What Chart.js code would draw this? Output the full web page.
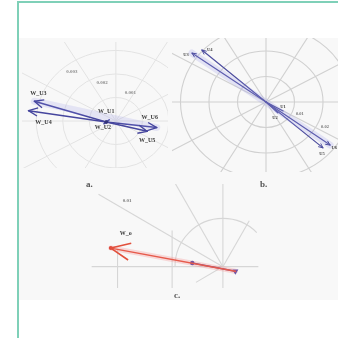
<!DOCTYPE html>
<html>
<head>
<meta charset="utf-8">
<script src="https://cdn.jsdelivr.net/npm/chart.js@4"></script>
<style>
  html, body { margin: 0; padding: 0; background: #fff; width: 338px; height: 338px; overflow: hidden; }
  body { position: relative; }
  #frame { position: absolute; left: 17px; top: 1px; width: 340px; height: 360px;
           border-left: 2px solid #7fd0b8; border-top: 2px solid #7fd0b8; }
  #sheet { position: absolute; left: 19px; top: 38px; width: 319px; height: 262px; background: #f8f8f8; }
  canvas { position: absolute; }
  .tag { position: absolute; font: bold 9px "Liberation Serif", serif; color: #555; }
</style>
</head>
<body>
<div id="frame"></div>
<div id="sheet"></div>
<canvas id="pa" width="154" height="134" style="left:18px;top:38px"></canvas>
<canvas id="pb" width="166" height="134" style="left:172px;top:38px"></canvas>
<canvas id="pc" width="190" height="112" style="left:80px;top:180px"></canvas>
<div class="tag" style="left:86px;top:179px">a.</div>
<div class="tag" style="left:260px;top:179px">b.</div>
<div class="tag" style="left:174px;top:290px">c.</div>
<script>
// ---- phasor values (units of the ring ticks) ----
// a. six phasors drawn from a common hub
const aNames = ['W_U1', 'W_U2', 'W_U3', 'W_U4', 'W_U5', 'W_U6'];
const aTailX = [-0.36, -0.36, -0.36, -0.36, -0.36, -0.36];
const aTailY = [-0.04, -0.04, -0.04, -0.04, -0.04, -0.04];
const aTipX  = [-0.25, -0.45, -3.07, -3.29, 1.18, 1.54];
const aTipY  = [0.05, -0.12, 0.84, 0.44, -0.44, -0.28];
const aRingTicks = ['0.001', '0.002', '0.003'];

// b. the same six phasors on the full polar grid
const bNames = ['U1', 'U2', 'U3', 'U4', 'U5', 'U6'];
const bTailX = [0, 0, 0, 0, 0, 0];
const bTailY = [0, 0, 0, 0, 0, 0];
const bTipX  = [0.60, 0.42, -2.60, -2.25, 2.00, 2.25];
const bTipY  = [-0.35, -0.43, 1.92, 2.04, -1.80, -1.69];
const bRingTicks = ['0.01', '0.02'];

// c. resulting phasor (red) and its component (blue)
const cNames = ['W_o', ''];
const cTailX = [0.26, 0.26];
const cTailY = [-0.096, -0.096];
const cTipX  = [-2.34, -0.64];
const cTipY  = [0.385, 0.077];
const cRingTicks = ['0.01'];

// ---- label placement (pixel offsets from each tip) ----
const aTagOffsets = [[-3, -8], [-1, 4], [4, -8], [15, 12], [0, 9], [-7, -10]];
const bTagOffsets = [[0, -4], [-3, 5], [-6, 2], [8, 0], [-1, 6], [4, 3]];
const cTagOffsets = [[15, -15], [0, 0]];

// polar grid: rings, spokes, straight segments and ring tick labels
const polarGrid = {
  id: 'polarGrid',
  beforeDatasetsDraw(chart, args, o) {
    const { ctx, chartArea: ca, scales: { x, y } } = chart;
    const px = v => x.getPixelForValue(v), py = v => y.getPixelForValue(v);
    const cx = px(0), cy = py(0);
    ctx.save();
    ctx.beginPath();
    ctx.rect(ca.left, ca.top, ca.right - ca.left, ca.bottom - ca.top);
    ctx.clip();
    ctx.strokeStyle = o.color;
    ctx.lineWidth = o.width;
    (o.rings || []).forEach(g => {
      const rx = px(g.r) - cx, ry = cy - py(g.r);
      ctx.beginPath();
      ctx.ellipse(cx, cy, rx, ry, 0, -g.to * Math.PI / 180, -g.from * Math.PI / 180);
      ctx.stroke();
    });
    (o.spokes || []).forEach(s => {
      const t = s.deg * Math.PI / 180;
      ctx.beginPath();
      ctx.moveTo(px(s.r0 * Math.cos(t)), py(s.r0 * Math.sin(t)));
      ctx.lineTo(px(s.r1 * Math.cos(t)), py(s.r1 * Math.sin(t)));
      ctx.stroke();
    });
    (o.lines || []).forEach(([x1, y1, x2, y2]) => {
      ctx.beginPath();
      ctx.moveTo(px(x1), py(y1));
      ctx.lineTo(px(x2), py(y2));
      ctx.stroke();
    });
    ctx.fillStyle = o.labelColor;
    ctx.font = o.labelFont;
    ctx.textAlign = 'center';
    ctx.textBaseline = 'middle';
    (o.labels || []).forEach(l => ctx.fillText(l.text, px(l.x), py(l.y)));
    ctx.restore();
  }
};

// arrow heads and phasor names at the tips
const phasorDecor = {
  id: 'phasorDecor',
  afterDatasetsDraw(chart) {
    const ctx = chart.ctx;
    chart.data.datasets.forEach((ds, i) => {
      const meta = chart.getDatasetMeta(i);
      if (!meta.data || meta.data.length < 2) return;
      const a = meta.data[0], b = meta.data[meta.data.length - 1];
      ctx.save();
      if (ds.head) {
        const ang = Math.atan2(b.y - a.y, b.x - a.x);
        ctx.strokeStyle = ds.borderColor;
        ctx.lineWidth = ds.headWidth || ds.borderWidth;
        ctx.lineJoin = 'round';
        ctx.beginPath();
        ctx.moveTo(b.x - ds.head * Math.cos(ang - 0.42), b.y - ds.head * Math.sin(ang - 0.42));
        ctx.lineTo(b.x, b.y);
        ctx.lineTo(b.x - ds.head * Math.cos(ang + 0.42), b.y - ds.head * Math.sin(ang + 0.42));
        ctx.stroke();
      }
      if (ds.tag) {
        ctx.font = ds.tagFont;
        ctx.fillStyle = ds.tagColor;
        ctx.textAlign = 'center';
        ctx.textBaseline = 'middle';
        ctx.fillText(ds.tag, b.x + ds.tagDx, b.y + ds.tagDy);
      }
      ctx.restore();
    });
  }
};

function seg(x1, y1, x2, y2, extra) {
  return Object.assign({
    data: [{ x: x1, y: y1 }, { x: x2, y: y2 }],
    showLine: true, pointRadius: 0, borderCapStyle: 'round'
  }, extra);
}

function phasors(names, tx, ty, hx, hy, offsets, style) {
  return names.map((n, i) => seg(tx[i], ty[i], hx[i], hy[i], Object.assign({
    tag: n, tagDx: offsets[i][0], tagDy: offsets[i][1]
  }, typeof style === 'function' ? style(i) : style)));
}

function options(xmin, xmax, ymin, ymax, grid) {
  return {
    responsive: false, animation: false,
    layout: { padding: 0 },
    events: [],
    plugins: { legend: { display: false }, tooltip: { enabled: false }, polarGrid: grid },
    scales: {
      x: { type: 'linear', min: xmin, max: xmax, display: false },
      y: { type: 'linear', min: ymin, max: ymax, display: false }
    }
  };
}

const every30 = (r0, r1) => Array.from({ length: 12 }, (_, k) => ({ deg: k * 30, r0, r1 }));

// ---- a. ----
const aBand = seg(aTipX[2], aTipY[2], aTipX[5], aTipY[5],
  { borderColor: 'rgba(140,140,225,0.18)', borderWidth: 7 });
new Chart(document.getElementById('pa'), {
  type: 'scatter',
  data: {
    datasets: [aBand].concat(phasors(aNames, aTailX, aTailY, aTipX, aTipY, aTagOffsets, i => ({
      borderColor: '#46469e', borderWidth: 1.5,
      head: i < 2 ? 0 : 10, headWidth: 1.4,
      pointRadius: [i < 2 ? 1.8 : 0, 0], pointBackgroundColor: '#33337a', pointBorderWidth: 0,
      tagFont: 'bold 6px "Liberation Serif", serif', tagColor: '#3a3a3a'
    })))
  },
  options: options(-3.5357, 1.9643, -2.0, 3.36, {
    color: '#e3e3e3', width: 1,
    rings: [1, 2, 3].map(r => ({ r, from: 0, to: 360 })),
    spokes: every30(0, 4.6),
    labelColor: '#8a8a8a', labelFont: 'bold 5px "Liberation Serif", serif',
    labels: [
      { text: aRingTicks[0], x: 0.55, y: 1.21 },
      { text: aRingTicks[1], x: -0.52, y: 1.64 },
      { text: aRingTicks[2], x: -1.66, y: 2.08 }
    ]
  }),
  plugins: [polarGrid, phasorDecor]
});

// ---- b. ----
const bBand = seg(bTipX[2], bTipY[2], bTipX[5], bTipY[5],
  { borderColor: 'rgba(150,150,230,0.22)', borderWidth: 7 });
new Chart(document.getElementById('pb'), {
  type: 'scatter',
  data: {
    datasets: [bBand].concat(phasors(bNames, bTailX, bTailY, bTipX, bTipY, bTagOffsets, i => ({
      borderColor: '#4d4d9e', borderWidth: 1.2,
      head: i < 2 ? 0 : 5, headWidth: 1,
      tagFont: 'bold 4.5px "Liberation Serif", serif', tagColor: '#444'
    })))
  },
  options: options(-3.298, 2.526, -2.745, 2.51, {
    color: '#d0d0d0', width: 1.1,
    rings: [1, 2, 3].map(r => ({ r, from: 0, to: 360 })),
    spokes: every30(0, 4.5),
    labelColor: '#777', labelFont: 'bold 4.5px "Liberation Serif", serif',
    labels: [
      { text: bRingTicks[0], x: 1.19, y: -0.47 },
      { text: bRingTicks[1], x: 2.07, y: -0.98 }
    ]
  }),
  plugins: [polarGrid, phasorDecor]
});

// ---- c. ----
const cGlow = seg(cTailX[0], cTailY[0], cTipX[0], cTipY[0],
  { borderColor: 'rgba(245,120,120,0.25)', borderWidth: 5 });
new Chart(document.getElementById('pc'), {
  type: 'scatter',
  data: {
    datasets: [cGlow].concat(phasors(cNames, cTailX, cTailY, cTipX, cTipY, cTagOffsets, i => (i === 0 ? {
      borderColor: '#e2503c', borderWidth: 1.4, head: 21, headWidth: 1.6,
      pointRadius: [0, 2], pointBackgroundColor: '#d83a2a', pointBorderWidth: 0,
      tagFont: 'bold 6px "Liberation Serif", serif', tagColor: '#3a3a3a'
    } : {
      borderColor: '#5a4aa0', borderWidth: 1.6, head: 0,
      pointRadius: [3.5, 2.2], pointStyle: ['triangle', 'circle'], pointRotation: [180, 0],
      pointBackgroundColor: '#4a4ab0', pointBorderWidth: 0
    })))
  },
  options: options(-2.9, 0.9, -0.442, 1.712, {
    color: '#d6d6d6', width: 1.1,
    rings: [{ r: 1, from: 45, to: 180 }],
    spokes: [
      { deg: 150, r0: 0, r1: 3.0 },
      { deg: 120, r0: 0, r1: 2.2 },
      { deg: 60, r0: 0, r1: 1.1 },
      { deg: 210, r0: 0.1, r1: 0.65 }
    ],
    lines: [[-2.74, 0, 0.74, 0], [0, -0.45, 0, 1.8], [-1.06, -0.45, -1.06, 0.75], [-2.2, -0.45, -2.2, 0.37]],
    labelColor: '#7a7a7a', labelFont: 'bold 5px "Liberation Serif", serif',
    labels: [{ text: cRingTicks[0], x: -2.0, y: 1.365 }]
  }),
  plugins: [polarGrid, phasorDecor]
});
</script>
</body>
</html>
